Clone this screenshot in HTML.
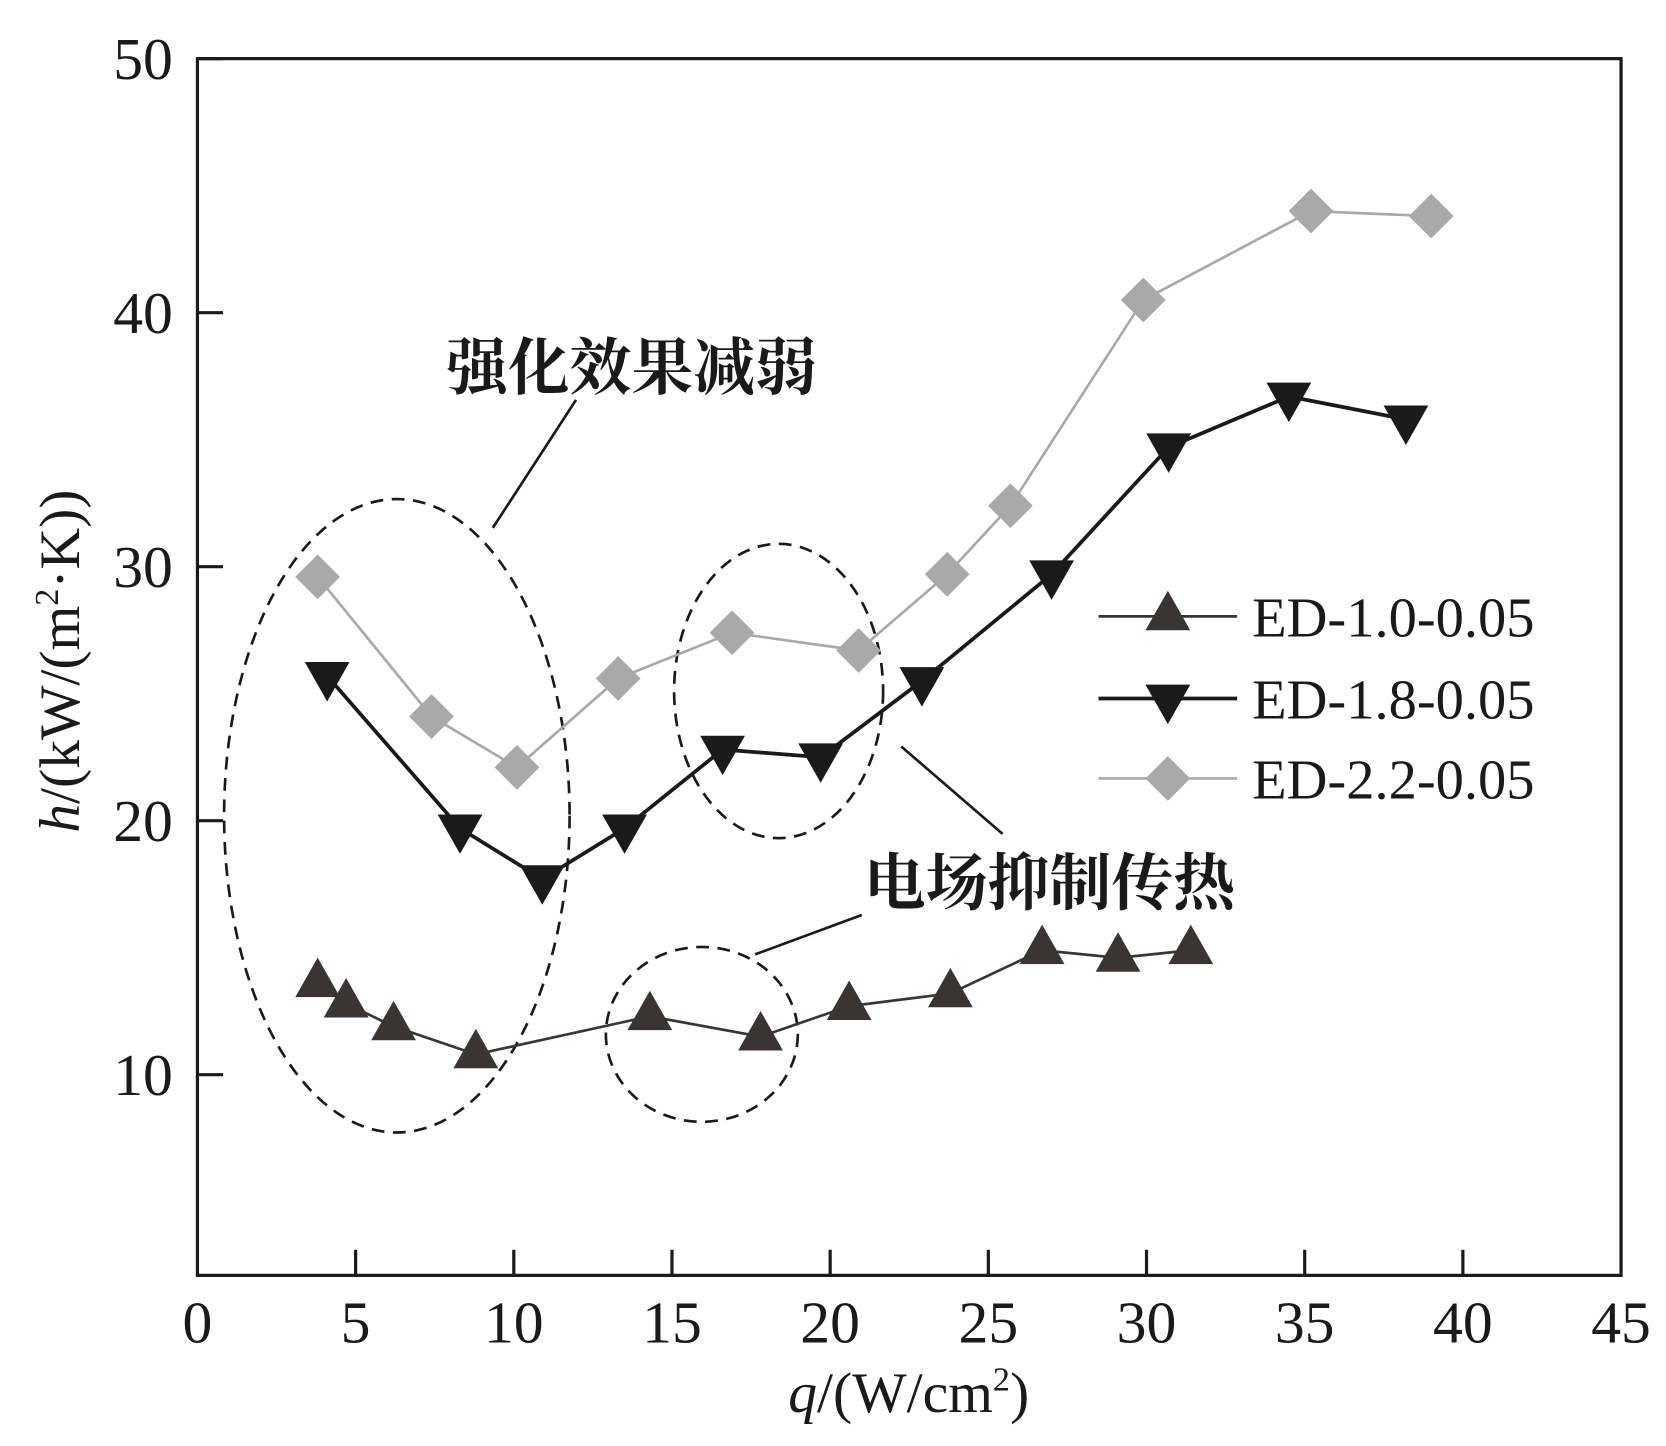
<!DOCTYPE html>
<html><head><meta charset="utf-8"><style>body{margin:0;background:#fff}svg{display:block}</style></head>
<body>
<svg width="1666" height="1446" viewBox="0 0 1562 1356" xmlns="http://www.w3.org/2000/svg" font-family="Liberation Serif, 'Noto Serif CJK SC', serif">
<g id="axes"></g><g id="ann"></g><g id="series"></g><g id="legend"></g>
</svg>
<script>
const xTicks=[0,5,10,15,20,25,30,35,40,45];
const yTicks=[10,20,30,40,50];
const names=["ED-1.0-0.05","ED-1.8-0.05","ED-2.2-0.05"];
const q1=[3.8,4.7,6.2,8.8,14.3,17.8,20.6,23.8,26.7,29.1,31.4];
const h1=[13.6,12.8,11.9,10.8,12.3,11.5,12.7,13.2,14.9,14.6,14.9];
const q2=[4.1,8.3,10.9,13.5,16.6,19.7,22.9,27.0,30.7,34.5,38.2];
const h2=[25.7,19.7,17.7,19.7,22.8,22.5,25.5,29.7,34.7,36.7,35.8];
const q3=[3.8,7.4,10.1,13.3,16.9,20.9,23.7,25.7,29.9,35.2,39.0];
const h3=[29.6,24.1,22.1,25.6,27.4,26.7,29.7,32.4,40.5,44.0,43.8];
const NS="http://www.w3.org/2000/svg";
const L=185,R=1520,T=55,B=1196,XMAX=45,YMIN=2.1,YMAX=50;
const X=v=>L+(R-L)*v/XMAX, Y=v=>B-(B-T)*(v-YMIN)/(YMAX-YMIN);
function el(p,tag,a,txt){const e=document.createElementNS(NS,tag);for(const k in a)e.setAttribute(k,a[k]);if(txt!=null)e.textContent=txt;p.appendChild(e);return e;}
const ax=document.getElementById('axes');
let fr=el(ax,'rect',{x:L,y:T,width:R-L,height:B-T,fill:'none',stroke:'#1a1a1a','stroke-width':3});

xTicks.forEach(v=>{
 if(v>0&&v<45){const t=el(ax,'line',{x1:X(v),x2:X(v),y1:B,y2:B-24,stroke:'#1a1a1a','stroke-width':3});}
 const s=el(ax,'text',{x:X(v),y:1259,'text-anchor':'middle','font-size':56,fill:'#1a1a1a'},v);
 
});
yTicks.forEach(v=>{
 const t=el(ax,'line',{x1:L,x2:L+24,y1:Y(v),y2:Y(v),stroke:'#1a1a1a','stroke-width':3});
 const s=el(ax,'text',{x:162,y:Y(v)+19,'text-anchor':'end','font-size':56,fill:'#1a1a1a'},v);
 
});
let xl=el(ax,'text',{x:852,y:1324,'text-anchor':'middle','font-size':54,fill:'#1a1a1a'});
xl.innerHTML='<tspan font-style="italic">q</tspan>/(W/cm<tspan font-size="32" dy="-20">2</tspan><tspan dy="20">)</tspan>';

let yl=el(ax,'text',{x:0,y:0,'text-anchor':'middle','font-size':54,fill:'#1a1a1a',transform:'translate(74,620) rotate(-90)'});
yl.innerHTML='<tspan font-style="italic">h</tspan>/(kW/(m<tspan font-size="32" dy="-20">2</tspan><tspan dy="20">·K))</tspan>';

const an=document.getElementById('ann');
[[372,765,162,297],[730,648,98,138],[658,970,90,82]].forEach(e=>{const o=el(an,'ellipse',{cx:e[0],cy:e[1],rx:e[2],ry:e[3],fill:'none',stroke:'#1a1a1a','stroke-width':2.5,'stroke-dasharray':'12 8'});});
[[540,375,462,495],[845,700,940,782],[808,858,708,895]].forEach(l=>{const o=el(an,'line',{x1:l[0],y1:l[1],x2:l[2],y2:l[3],stroke:'#1a1a1a','stroke-width':2.5});});
let a1=el(an,'text',{x:418,y:365,'font-size':58,'font-weight':'bold',fill:'#1a1a1a','font-family':"'Noto Serif CJK SC','Noto Sans CJK SC',serif"},'强化效果减弱');

let a2=el(an,'text',{x:810,y:848,'font-size':58,'font-weight':'bold',fill:'#1a1a1a','font-family':"'Noto Serif CJK SC','Noto Sans CJK SC',serif"},'电场抑制传热');

function marker(g,type,cx,cy,col){
 let p;
 if(type==0)p=`${cx},${cy-24} ${cx+21},${cy+13} ${cx-21},${cy+13}`;
 else if(type==1)p=`${cx-21},${cy-13} ${cx+21},${cy-13} ${cx},${cy+24}`;
 else p=`${cx},${cy-21} ${cx+21},${cy} ${cx},${cy+21} ${cx-21},${cy}`;
 return el(g,'polygon',{points:p,fill:col});
}
const S=[[q1,h1,'#3a3533','#3a3533'],[q2,h2,'#1a1a1a','#1a1a1a'],[q3,h3,'#aaa9a9','#aaa9a9']];
const sg=document.getElementById('series');
S.forEach((s,i)=>{
 const g=el(sg,'g',{});
 const pl=el(g,'polyline',{points:s[0].map((q,j)=>X(q)+','+Y(s[1][j])).join(' '),fill:'none',stroke:s[2],'stroke-width':i==1?3.5:2.5});
 
 s[0].forEach((q,j)=>{const m=marker(g,i,X(q),Y(s[1][j]),s[3]);});
});
const lg=document.getElementById('legend');
[578,655,730].forEach((y,i)=>{
 const g=el(lg,'g',{});
 el(g,'line',{x1:1030,x2:1160,y1:y,y2:y,stroke:S[i][2],'stroke-width':i==1?3.5:2.5});
 marker(g,i,1095,y,S[i][3]);
 el(g,'text',{x:1174,y:y+19,'font-size':53,fill:'#1a1a1a'},names[i]);
});
</script>
</body></html>
